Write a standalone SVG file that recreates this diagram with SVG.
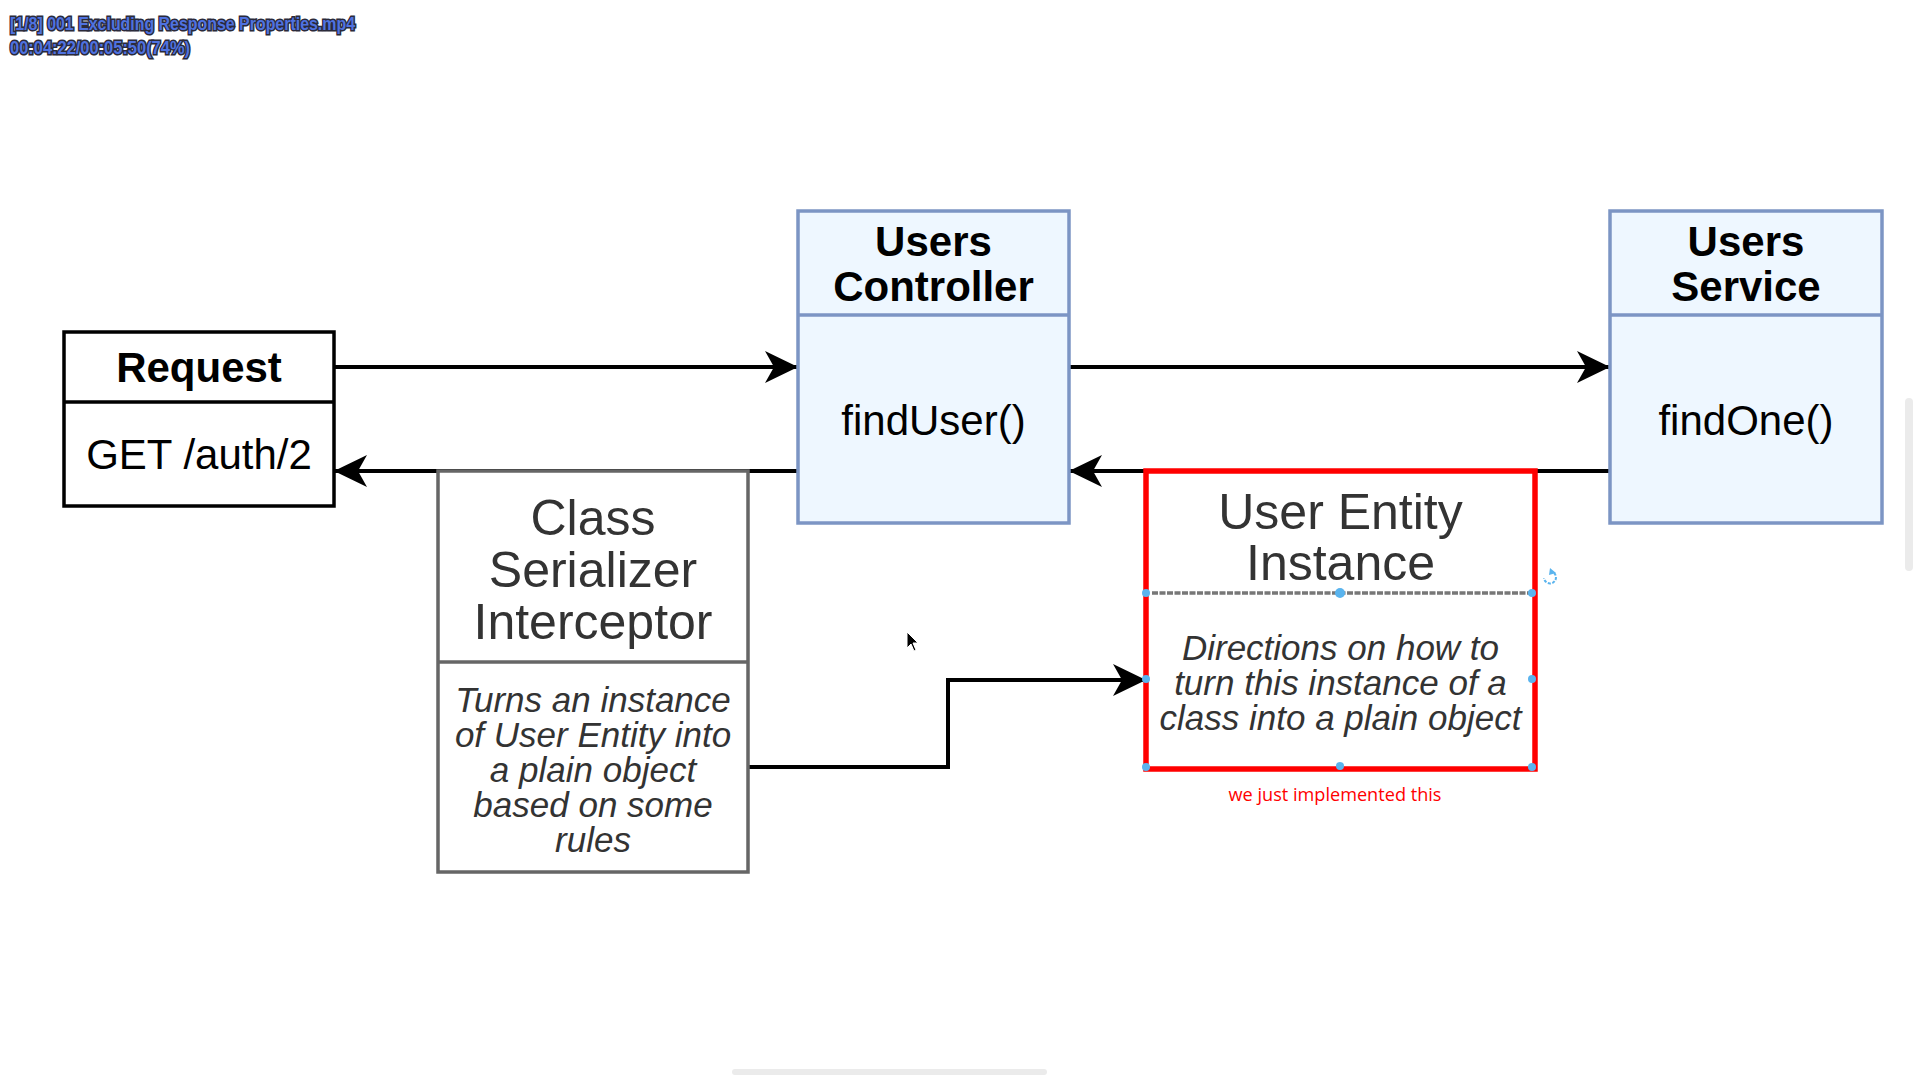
<svg xmlns="http://www.w3.org/2000/svg" width="1920" height="1080" viewBox="0 0 1920 1080">
  <style>
    .t { font-family: "Liberation Sans", Arial, sans-serif; text-anchor: middle; }
    .hdr { font-size: 42px; font-weight: bold; fill: #000; }
    .body { font-size: 42px; fill: #000; }
    .gtitle { font-size: 50px; fill: #333; }
    .gital { font-size: 35px; font-style: italic; fill: #333; }
    .blue { fill: #EEF7FF; stroke: #7C95C4; stroke-width: 3.5; }
    .bk { fill: #fff; stroke: #000; stroke-width: 3.5; }
    .gray { fill: #fff; stroke: #666; stroke-width: 3.5; }
    .conn { fill: none; stroke: #000; stroke-width: 4; }
    .handle { fill: #5AB4EE; }
    .overlay { font-family: "Liberation Sans", Arial, sans-serif; font-weight: bold; font-size: 17.5px; fill: #4F72E0; stroke: #2A2A3A; stroke-width: 3; paint-order: stroke; }
  </style>
  <defs>
    <marker id="arr" viewBox="-34 -17 36 34" refX="0" refY="0" markerWidth="36" markerHeight="34" markerUnits="userSpaceOnUse" orient="auto">
      <path d="M -33 -16 L 0 0 L -33 16 L -24 0 Z" fill="#000"/>
    </marker>
  </defs>
  <rect width="1920" height="1080" fill="#fff"/>

  <!-- scrollbars -->
  <rect x="1905" y="398" width="8" height="173" rx="4" fill="#EBEBEB"/>
  <rect x="732" y="1069" width="315" height="6" rx="3" fill="#EBEBEB"/>

  <!-- overlay -->
  <g id="overlay">
    <text class="overlay" x="10" y="30" textLength="345" lengthAdjust="spacingAndGlyphs">[1/8] 001 Excluding Response Properties.mp4</text>
    <text class="overlay" x="10" y="54" textLength="180" lengthAdjust="spacingAndGlyphs">00:04:22/00:05:50(74%)</text>
  </g>

  <!-- connectors -->
  <g id="connectors">
    <path class="conn" d="M 334 367 L 798 367" marker-end="url(#arr)"/>
    <path class="conn" d="M 1069 367 L 1610 367" marker-end="url(#arr)"/>
    <path class="conn" d="M 1610 471 L 1069 471" marker-end="url(#arr)"/>
    <path class="conn" d="M 798 471 L 334 471" marker-end="url(#arr)"/>
    <path class="conn" d="M 748 767 L 948 767 L 948 680 L 1146 680" marker-end="url(#arr)"/>
  </g>

  <!-- Request -->
  <g id="request">
    <rect class="bk" x="64" y="332" width="270" height="174"/>
    <line x1="64" y1="402" x2="334" y2="402" stroke="#000" stroke-width="3.5"/>
    <text class="t hdr" x="199" y="382">Request</text>
    <text class="t body" x="199" y="469">GET /auth/2</text>
  </g>

  <!-- Users Controller -->
  <g id="users-controller">
    <rect class="blue" x="798" y="211" width="271" height="312"/>
    <line x1="798" y1="315" x2="1069" y2="315" stroke="#7C95C4" stroke-width="3.5"/>
    <text class="t hdr" x="933.5" y="256">Users</text>
    <text class="t hdr" x="933.5" y="301">Controller</text>
    <text class="t body" x="933.5" y="435">findUser()</text>
  </g>

  <!-- Users Service -->
  <g id="users-service">
    <rect class="blue" x="1610" y="211" width="272" height="312"/>
    <line x1="1610" y1="315" x2="1882" y2="315" stroke="#7C95C4" stroke-width="3.5"/>
    <text class="t hdr" x="1746" y="256">Users</text>
    <text class="t hdr" x="1746" y="301">Service</text>
    <text class="t body" x="1746" y="435">findOne()</text>
  </g>

  <!-- Class Serializer Interceptor -->
  <g id="class-serializer-interceptor">
    <rect class="gray" x="438" y="471" width="310" height="401"/>
    <line x1="438" y1="662" x2="748" y2="662" stroke="#666" stroke-width="3.5"/>
    <text class="t gtitle" x="593" y="535">Class</text>
    <text class="t gtitle" x="593" y="587">Serializer</text>
    <text class="t gtitle" x="593" y="639">Interceptor</text>
    <text class="t gital" x="593" y="712">Turns an instance</text>
    <text class="t gital" x="593" y="747">of User Entity into</text>
    <text class="t gital" x="593" y="782">a plain object</text>
    <text class="t gital" x="593" y="817">based on some</text>
    <text class="t gital" x="593" y="852">rules</text>
  </g>

  <!-- User Entity Instance -->
  <g id="user-entity-instance">
    <rect x="1146" y="471" width="389" height="298" fill="#fff" stroke="#666" stroke-width="2"/>
    <line x1="1152" y1="593" x2="1529" y2="593" stroke="#777" stroke-width="3.5" stroke-dasharray="6 1.5"/>
    <rect x="1146" y="471" width="389" height="298" fill="none" stroke="#FF0000" stroke-width="5.5"/>
    <text class="t gtitle" x="1340.5" y="529">User Entity</text>
    <text class="t gtitle" x="1340.5" y="580">Instance</text>
    <text class="t gital" x="1340.5" y="660">Directions on how to</text>
    <text class="t gital" x="1340.5" y="695">turn this instance of a</text>
    <text class="t gital" x="1340.5" y="730">class into a plain object</text>
    <circle class="handle" cx="1146" cy="593" r="4"/>
    <circle class="handle" cx="1340" cy="593" r="5"/>
    <circle class="handle" cx="1532" cy="593" r="4"/>
    <circle class="handle" cx="1146" cy="679" r="4"/>
    <circle class="handle" cx="1532" cy="679" r="4"/>
    <circle class="handle" cx="1146" cy="767" r="4"/>
    <circle class="handle" cx="1340" cy="766" r="4"/>
    <circle class="handle" cx="1532" cy="767" r="4"/>
    <path d="M 1554 573 A 6 6 0 1 1 1544 578" fill="none" stroke="#5AB4EE" stroke-width="2" stroke-dasharray="3 1.5"/>
    <path d="M 1550 568 L 1556 573 L 1549 575 Z" fill="#5AB4EE"/>
  </g>

  <text id="note" x="1335" y="801" font-family="'Open Sans', 'Liberation Sans', sans-serif" font-size="18" fill="#FF0000" text-anchor="middle" textLength="213" lengthAdjust="spacingAndGlyphs">we just implemented this</text>

  <!-- mouse cursor -->
  <path d="M 907 632 L 907 648 L 911 644 L 914 651 L 916 650 L 913 643 L 918 643 Z" fill="#000" stroke="#fff" stroke-width="1"/>
</svg>
